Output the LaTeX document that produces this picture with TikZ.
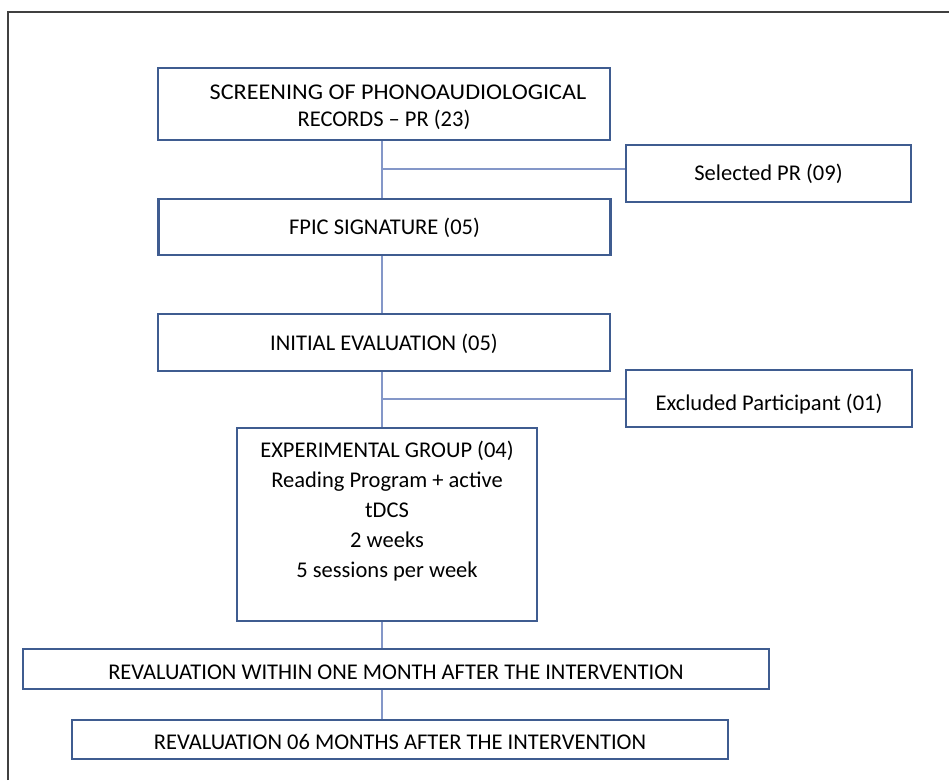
\documentclass[tikz,border=0pt]{standalone}
\usepackage{fontspec}
\setmainfont{Carlito}
\definecolor{boxblue}{HTML}{3F5C90}
\definecolor{linkblue}{HTML}{8497C8}
\definecolor{frame}{HTML}{404040}
\begin{document}
\begin{tikzpicture}[x=1pt,y=-1pt,
  box/.style={draw=boxblue,line width=2.8pt,rectangle,inner sep=0pt,align=center,font=\fontsize{22.5}{27}\selectfont},
  link/.style={draw=linkblue,line width=1.5pt}]
\useasboundingbox (0,0) rectangle (949,780);
\fill[white] (0,0) rectangle (949,780);
\draw[frame,line width=1.4pt] (8,780) -- (8,12) -- (949,12);
\coordinate (spine) at (382,0);
\node[box,minimum width=452pt,minimum height=72pt] (b1) at (384,104) {};
\node[align=center,font=\fontsize{22.5}{27}\selectfont,inner sep=0pt,anchor=base] (b1t) at (384,126) {\hspace*{28pt}\scalebox{1.075}[1]{SCREENING OF PHONOAUDIOLOGICAL}\\RECORDS -- PR (23)};
\node[box,minimum width=285pt,minimum height=57pt,text height=14.5pt,text depth=0pt] (sel) at (768.5,173.5) {Selected PR (09)};
\node[box,minimum width=452pt,minimum height=56pt,text height=14.5pt,text depth=0pt] (b2) at (384.5,227) {FPIC SIGNATURE (05)};
\node[box,minimum width=452pt,minimum height=57pt,text height=16pt,text depth=0pt] (b3) at (384,342.5) {INITIAL EVALUATION (05)};
\node[box,minimum width=286pt,minimum height=57pt,text height=24.5pt,text depth=0pt] (exc) at (769,398.5) {Excluded Participant (01)};
\node[box,minimum width=300pt,minimum height=193pt] (b4) at (387,524.5) {};
\node[anchor=north,align=center,font=\fontsize{22.5}{30}\selectfont,inner sep=0pt] (b4t) at (387,441) {EXPERIMENTAL GROUP (04)\\Reading Program + active\\tDCS\\2 weeks\\5 sessions per week};
\node[box,minimum width=746pt,minimum height=40pt,text height=20.5pt,text depth=0pt] (b5) at (396,669) {REVALUATION WITHIN ONE MONTH AFTER THE INTERVENTION};
\node[box,minimum width=656pt,minimum height=39pt,text height=20.5pt,text depth=0pt] (b6) at (400,739.5) {REVALUATION 06 MONTHS AFTER THE INTERVENTION};
\coordinate (j1) at (382,169);
\coordinate (j2) at (382,399);
\draw[link] (b1.south -| spine) -- (b2.north -| spine);
\draw[link] (j1) -- (sel.west |- j1);
\draw[link] (b2.south -| spine) -- (b3.north -| spine);
\draw[link] (b3.south -| spine) -- (b4.north -| spine);
\draw[link] (j2) -- (exc.west |- j2);
\draw[link] (b4.south -| spine) -- (b5.north -| spine);
\draw[link] (b5.south -| spine) -- (b6.north -| spine);
\end{tikzpicture}
\end{document}
